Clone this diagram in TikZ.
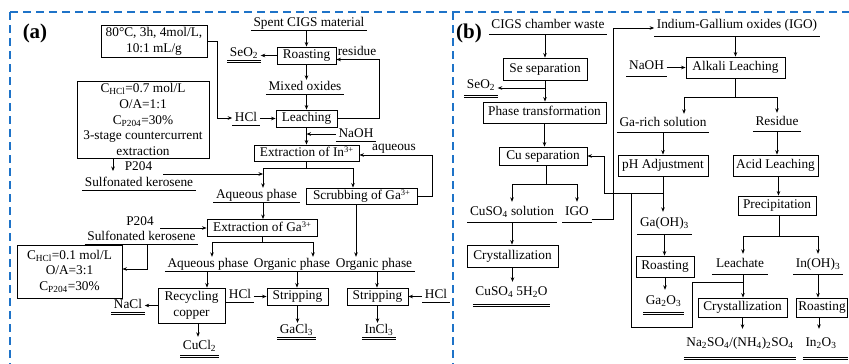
\documentclass[tikz,border=0pt]{standalone}
\usepackage{fontspec}
\setmainfont{Liberation Serif}
\usetikzlibrary{arrows.meta,calc}
\definecolor{frameblue}{RGB}{30,115,200}
\newcommand\mysup[1]{\raisebox{3.8pt}{\fontsize{8.5}{9}\selectfont #1}}
\begin{document}
\begin{tikzpicture}[x=1pt,y=-1pt,
  every node/.style={font=\fontsize{13.3}{15.8}\selectfont, text=black},
  arr/.style={line width=0.8pt, -{Stealth[length=4.5pt,width=3.6pt]}},
  ln/.style={line width=0.8pt},
  ulline/.style={draw, line width=0.8pt, -},
  lbl/.style={inner xsep=2.5pt, inner ysep=#1, text height=9pt, text depth=3pt},
  lbl/.default=1pt,
  ul/.style={lbl=#1, append after command={(\tikzlastnode.south west) edge[ulline] (\tikzlastnode.south east)}},
  ul/.default=1pt,
  dul/.style={lbl=#1, append after command={(\tikzlastnode.south west) edge[ulline] (\tikzlastnode.south east) ([yshift=-2.4pt]\tikzlastnode.south west) edge[ulline] ([yshift=-2.4pt]\tikzlastnode.south east)}},
  dul/.default=1pt,
  bx/.style 2 args={draw, line width=0.9pt, inner sep=1pt, text height=9pt, text depth=3pt, minimum width=#1, minimum height=#2},
  mbx/.style 2 args={draw, line width=0.9pt, inner sep=1pt, align=center, minimum width=#1, minimum height=#2},
  tagfont/.style={font=\fontsize{21}{24}\selectfont\bfseries},
  bluedash/.style={draw=frameblue, line width=1.8pt, dash pattern=on 8pt off 5pt}
]
\useasboundingbox (0,0) rectangle (849,364);

% frames
\draw[bluedash] (10,12) -- (849,12);
\draw[bluedash] (10,12) -- (10,364);
\draw[bluedash] (453,12) -- (453,364);

% ================= panel (a) =================
\node[tagfont] (tagA) at (35,33) {(a)};
\node[mbx={106pt}{32pt}] (cond1) at (154,41) {80°C, 3h, 4mol/L,\\10:1 mL/g};
\node[ul] (spent) at (309,23) {Spent CIGS material};
\node[bx={59pt}{17pt}] (roast) at (306.5,55.5) {Roasting};
\node[dul] (seo2a) at (244,53) {SeO\textsubscript{2}};
\node[lbl] (resid) at (357,52) {residue};
\node[ul] (mixed) at (305,87) {Mixed oxides};
\node[bx={61pt}{17pt}] (leach) at (306.5,118.5) {Leaching};
\node[ul] (hcl1) at (246,118) {HCl};
\node[ul] (naoh1) at (356,134) {NaOH};
\node[bx={105pt}{16pt}] (exin) at (306.5,153) {Extraction of In\mysup{3+}};
\node[mbx={132pt}{77pt}] (cond2) at (143,119.5) {C\textsubscript{HCl}=0.7 mol/L\\O/A=1:1\\C\textsubscript{P204}=30\%\\3-stage countercurrent\\extraction};
\node[lbl] (p204a) at (138.5,167) {P204};
\node[ul] (sk1) at (139,183) {Sulfonated kerosene};
\node[ul] (aq1) at (256.5,195) {Aqueous phase};
\node[bx={111pt}{16pt}] (scrub) at (361.5,196) {Scrubbing of Ga\mysup{3+}};
\node[lbl] (aqlab) at (394,147) {aqueous};
\node[bx={110pt}{17pt}] (exga) at (262,228) {Extraction of Ga\mysup{3+}};
\node[lbl] (p204b) at (140,222) {P204};
\node[ul] (sk2) at (141.5,237) {Sulfonated kerosene};
\node[mbx={105pt}{53pt}] (cond3) at (69.5,271.5) {C\textsubscript{HCl}=0.1 mol/L\\O/A=3:1\\C\textsubscript{P204}=30\%};
\node[ul] (aq2) at (208,264) {Aqueous phase};
\node[ul] (org1) at (292,264) {Organic phase};
\node[ul] (org2) at (374,264) {Organic phase};
\node[mbx={67pt}{35pt}] (recyc) at (191.5,305.5) {Recycling\\copper};
\node[bx={61pt}{17pt}] (strip1) at (297.5,296.5) {Stripping};
\node[bx={61pt}{17pt}] (strip2) at (377.5,296.5) {Stripping};
\node[ul] (hcl2) at (240,295) {HCl};
\node[ul] (hcl3) at (436,295) {HCl};
\node[dul] (gacl3) at (296.5,330) {GaCl\textsubscript{3}};
\node[dul] (incl3) at (379,330) {InCl\textsubscript{3}};
\node[dul] (nacl) at (128,305) {NaCl};
\node[dul=3pt] (cucl2) at (199.5,346) {CuCl\textsubscript{2}};

\draw[arr] (cond1.east) -- ++(10,0) |- (hcl1.west);
\draw[arr] (spent.south -| roast.north) -- (roast.north);
\draw[arr] (roast.west) -- (roast.west -| seo2a.east);
\draw[arr] (roast.south) -- (roast.south |- mixed.north);
\draw[arr] (mixed.south -| leach.north) -- (leach.north);
\draw[arr] (hcl1.east |- leach.west) -- (leach.west);
\draw[arr] (leach.east) -- ++(42,0) |- ([yshift=-4pt]roast.east);
\draw[arr] (leach.south) -- (exin.north);
\draw[arr] (naoh1.west) -- (naoh1.west -| leach.south);
\draw[arr] (scrub.east) -- ++(15,0) |- ([yshift=-2pt]exin.east);
\coordinate (s1) at (306.5,168);
\draw[ln] (exin.south) -- (s1);
\draw[arr] (s1) -| ([xshift=6.5pt]aq1.north);
\draw[arr] (s1) -| ([xshift=-8.5pt]scrub.north);
\coordinate (p1s) at (163,174);
\draw[arr] (p1s) -- ([xshift=6.5pt]aq1.north |- p1s);
\coordinate (c2a) at (113,171);
\draw[arr] (cond2.south -| c2a) -- (c2a);
\draw[arr] ([xshift=6.5pt]aq1.south) -- ([xshift=6.5pt]aq1.south |- exga.north);
\draw[arr] ([xshift=4pt]p204b.east |- exga.west) -- (exga.west);
\draw[arr] ([xshift=5.5pt]sk2.south) |- ([yshift=2.5pt]cond3.east);
\coordinate (s2) at (262,242);
\draw[ln] (exga.south) -- (s2);
\draw[arr] (s2) -| ([xshift=4pt]aq2.north);
\draw[arr] (s2) -| ([xshift=21pt]org1.north);
\draw[arr] ([xshift=-1pt]aq2.south) -- ([xshift=-1pt]aq2.south |- recyc.north);
\draw[arr] ([xshift=5pt]org1.south) -- ([xshift=5pt]org1.south |- strip1.north);
\draw[arr] ([xshift=-5.5pt]scrub.south) -- ([xshift=-5.5pt]scrub.south |- org2.north);
\draw[arr] ([xshift=3pt]org2.south) -- ([xshift=3pt]org2.south |- strip2.north);
\draw[arr] (hcl2.east |- strip1.west) -- (strip1.west);
\draw[arr] (hcl3.west |- strip2.east) -- (strip2.east);
\draw[arr] (strip1.south) -- (strip1.south |- gacl3.north);
\draw[arr] (strip2.south) -- (strip2.south |- incl3.north);
\draw[arr] (recyc.west) -- (recyc.west -| nacl.east);
\draw[arr] ([xshift=6.5pt]recyc.south) -- ([xshift=6.5pt]recyc.south |- cucl2.north);

% ================= panel (b) =================
\node[tagfont] (tagB) at (469,33) {(b)};
\node[ul=3pt] (cigs) at (548,25) {CIGS chamber waste};
\node[bx={84pt}{22pt}] (sesep) at (545,69) {Se separation};
\node[dul=4pt] (seo2b) at (481,85) {SeO\textsubscript{2}};
\node[bx={123pt}{21pt}] (phase) at (544.5,112.5) {Phase transformation};
\node[bx={88pt}{18pt}] (cusep) at (543,156) {Cu separation};
\node[ul=4pt] (cuso4) at (512,212) {CuSO\textsubscript{4} solution};
\node[ul=4pt] (igo1) at (577,212) {IGO};
\node[bx={91pt}{22pt}] (cryst1) at (512.5,256) {Crystallization};
\node[dul=6pt] (cuso4h) at (511.5,292) {CuSO\textsubscript{4} 5H\textsubscript{2}O};
\node[ul=5pt] (igo) at (737,25) {Indium-Gallium oxides (IGO)};
\node[bx={99pt}{21pt}] (alk) at (735.5,67.5) {Alkali Leaching};
\node[ul=4pt] (naoh2) at (646.5,66) {NaOH};
\node[ul=3pt] (garich) at (663,123) {Ga-rich solution};
\node[ul=3pt] (resb) at (777,122) {Residue};
\node[bx={90pt}{21pt}] (ph) at (663,165.5) {pH Adjustment};
\node[bx={85pt}{21pt}] (acid) at (775.5,165.5) {Acid Leaching};
\node[bx={78pt}{19pt}] (precip) at (777,205.5) {Precipitation};
\node[ul=5pt] (gaoh) at (664.5,223) {Ga(OH)\textsubscript{3}};
\node[bx={58pt}{21pt}] (roastb) at (665,266.5) {Roasting};
\node[dul=5pt] (ga2o3) at (663.5,301) {Ga\textsubscript{2}O\textsubscript{3}};
\node[ul=4pt, minimum width=56pt] (leachate) at (740,264) {Leachate};
\node[ul=4pt] (inoh) at (818,264) {In(OH)\textsubscript{3}};
\node[bx={89pt}{19pt}] (cryst2) at (742.5,307.5) {Crystallization};
\node[bx={51pt}{19pt}] (roastc) at (822,307.5) {Roasting};
\node[dul=8pt] (naso) at (740,343) {Na\textsubscript{2}SO\textsubscript{4}/(NH\textsubscript{4})\textsubscript{2}SO\textsubscript{4}};
\node[dul=8pt, text width=40pt, align=left] (in2o3) at (825.5,343) {In\textsubscript{2}O\textsubscript{3}};

\draw[arr] (cigs.south -| sesep.north) -- (sesep.north);
\draw[arr] (sesep.south) -- (sesep.south |- phase.north);
\coordinate (s3) at (545,88);
\draw[arr] (s3) -- (s3 -| seo2b.east);
\draw[arr] (phase.south) -- (phase.south |- cusep.north);
\coordinate (s4) at (546,184);
\draw[ln] ([xshift=3pt]cusep.south) -- (s4);
\draw[arr] (s4) -| (cuso4.north);
\draw[arr] (s4) -| (igo1.north);
\draw[arr] (cuso4.south) -- (cuso4.south |- cryst1.north);
\draw[arr] (cryst1.south) -- ([yshift=-2pt]cryst1.south |- cuso4h.north);
\draw[arr] ([yshift=-7pt]igo1.east) -- ++(22,0) |- ([yshift=-3pt]igo.west);
\draw[arr] (igo.south -| alk.north) -- (alk.north);
\draw[arr] (naoh2.east |- alk.west) -- (alk.west);
\coordinate (s5) at (735.5,97);
\draw[ln] (alk.south) -- (s5);
\draw[arr] (s5) -| ([xshift=21pt]garich.north);
\draw[arr] (s5) -| (resb.north);
\draw[arr] (garich.south -| ph.north) -- (ph.north);
\draw[arr] (resb.south) -- (resb.south |- acid.north);
\draw[arr] ([xshift=3pt]acid.south) -- ([xshift=3pt]acid.south |- precip.north);
\coordinate (s6) at (663,193);
\draw[arr] (ph.south) -- (ph.south |- gaoh.north);
\coordinate (s7) at (604,193);
\draw[arr] (s6) -- (s7) |- (cusep.east);
\coordinate (s8) at (631,193);
\coordinate (s9) at (743,282);
\draw[ln] (s8) -- ++(0,134) -| ++(61,-45) -- (s9);
\draw[arr] (gaoh.south) -- (gaoh.south |- roastb.north);
\draw[arr] (roastb.south) -- (roastb.south |- ga2o3.north);
\coordinate (s10) at (779,236);
\draw[ln] ([xshift=2pt]precip.south) -- (s10);
\draw[arr] (s10) -| ([xshift=3pt]leachate.north);
\draw[arr] (s10) -| (inoh.north);
\draw[arr] ([xshift=3pt]leachate.south) -- ([xshift=3pt]leachate.south |- cryst2.north);
\draw[arr] (inoh.south) -- (inoh.south |- roastc.north);
\draw[arr] (cryst2.south) -- (cryst2.south |- naso.north);
\draw[arr] ([xshift=-3pt]roastc.south) -- ([xshift=-3pt]roastc.south |- in2o3.north);
\end{tikzpicture}
\end{document}
